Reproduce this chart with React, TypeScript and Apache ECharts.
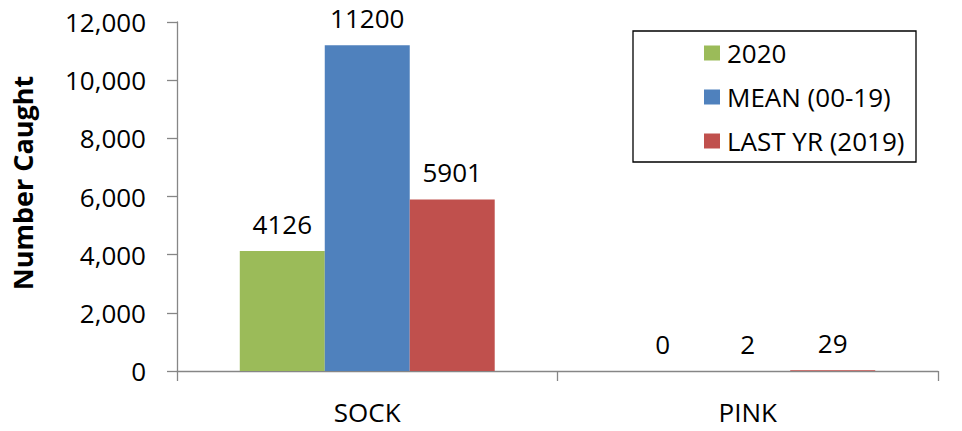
import React, { useEffect, useRef } from "react";
import * as echarts from "echarts";

const categories = ["SOCK", "PINK"];
const seriesNames = ["2020", "MEAN (00-19)", "LAST YR (2019)"];
const values2020 = [4126, 0];
const valuesMean = [11200, 2];
const valuesLast = [5901, 29];
const colors = ["#9BBB59", "#4F81BD", "#C0504D"];
const yTicks = { min: 0, max: 12000, interval: 2000 };
const yAxisTitle = "Number Caught";

const FONT = "'Open Sans', 'Liberation Sans', sans-serif";

export default function App() {
  const ref = useRef<HTMLDivElement>(null);
  useEffect(() => {
    if (!ref.current) return;
    const chart = echarts.init(ref.current, null, { renderer: "svg" });
    const data = [values2020, valuesMean, valuesLast];
    chart.setOption({
      animation: false,
      textStyle: { fontFamily: FONT, color: "#000" },
      grid: { left: 177, right: 24, top: 22, bottom: 60 },
      legend: {
        orient: "vertical",
        left: 704,
        top: 40,
        padding: 0,
        itemWidth: 16,
        itemHeight: 15,
        itemGap: 18,
        icon: "rect",
        textStyle: { fontFamily: FONT, fontSize: 26, lineHeight: 26, color: "#000", padding: [0, 0, 0, 2] },
        data: seriesNames,
      },
      xAxis: {
        type: "category",
        data: categories,
        axisLine: { lineStyle: { color: "#868686", width: 1.3 } },
        axisTick: { show: true, length: 10, alignWithLabel: false, lineStyle: { color: "#868686", width: 1.3 } },
        axisLabel: { fontFamily: FONT, fontSize: 26, lineHeight: 26, color: "#000", margin: 28 },
      },
      yAxis: {
        type: "value",
        min: yTicks.min,
        max: yTicks.max,
        interval: yTicks.interval,
        splitLine: { show: false },
        axisLine: { show: true, lineStyle: { color: "#868686", width: 1.3 } },
        axisTick: { show: true, length: 10, lineStyle: { color: "#868686", width: 1.3 } },
        axisLabel: {
          fontFamily: FONT,
          fontSize: 26,
          color: "#000",
          margin: 31,
          formatter: (v: number) => v.toLocaleString("en-US"),
        },
      },
      graphic: [
        {
          type: "rect",
          shape: { x: 633, y: 31, width: 283, height: 131 },
          style: { fill: "none", stroke: "#000", lineWidth: 1.3 },
          silent: true,
        },
        {
          type: "text",
          x: 22,
          y: 183,
          rotation: Math.PI / 2,
          style: {
            text: yAxisTitle,
            fontFamily: FONT,
            fontSize: 27,
            fontWeight: "bold",
            fill: "#000",
            align: "center",
            verticalAlign: "middle",
          },
        },
      ],
      series: seriesNames.map((name, i) => ({
        name,
        type: "bar",
        data: data[i],
        barGap: "0%",
        barCategoryGap: "33%",
        itemStyle: { color: colors[i] },
        label: {
          show: true,
          position: "top",
          distance: 14,
          fontFamily: FONT,
          fontSize: 26,
          lineHeight: 26,
          color: "#000",
        },
      })),
    });
    return () => chart.dispose();
  }, []);
  return (
    <div
      ref={ref}
      style={{ position: "fixed", left: 0, top: 0, width: 962, height: 431, background: "#fff" }}
    />
  );
}
